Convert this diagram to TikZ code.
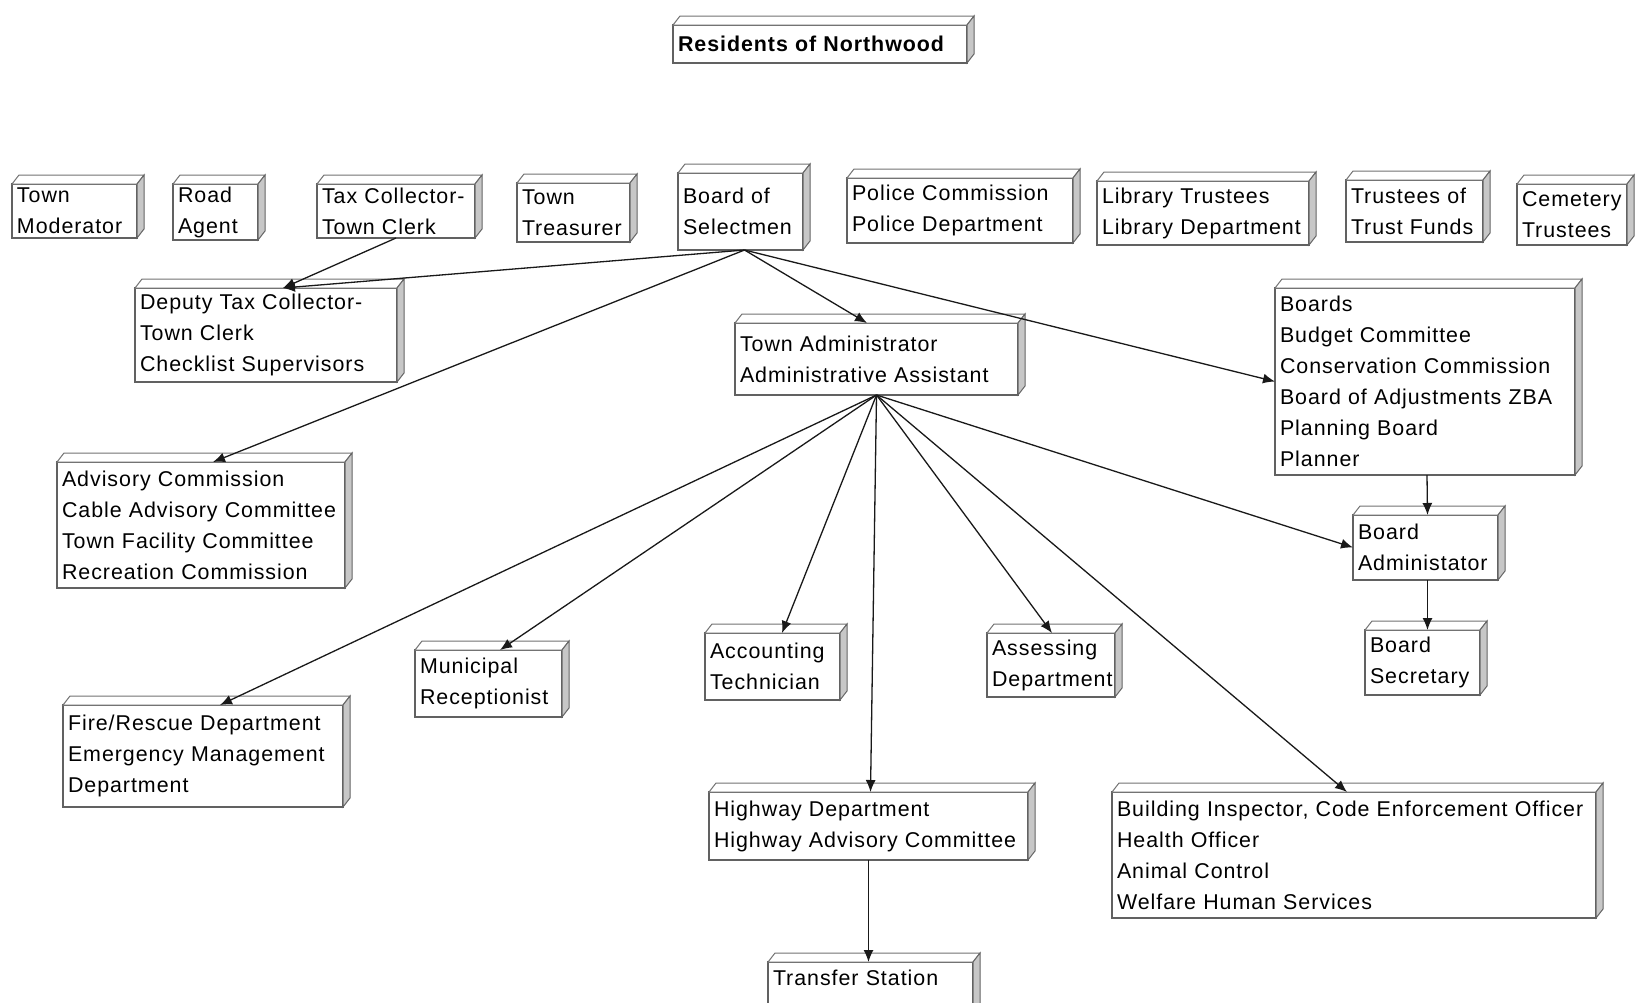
\documentclass[tikz,border=0pt]{standalone}
\usepackage{fontspec}
\setmainfont{Liberation Sans}[LetterSpace=4.5]
\usetikzlibrary{arrows.meta}
\newcommand\orgfs{\fontsize{10.7}{15.5}\selectfont}
\tikzset{
  orgbox/.style={draw=black!62, line width=0.6pt, fill=white, anchor=north west,
    inner xsep=2.5pt, inner ysep=0pt, outer sep=0pt, align=left, font=\orgfs},
  topface/.style={draw=black!55, line width=0.5pt, fill=white},
  sideface/.style={draw=black!60, line width=0.5pt, fill=black!22},
  conn/.style={-{Latex[length=6pt,width=5pt]}, line width=0.65pt, black!90},
}
\newcommand\orgbx[6]{%
  \pgfmathsetlengthmacro\obW{(#4-#2)*0.5pt}%
  \pgfmathsetlengthmacro\obH{(#5-#3)*0.5pt}%
  \pgfmathsetlengthmacro\obT{(#4-#2)*0.5pt-5pt}%
  \node[orgbox, minimum width=\obW, minimum height=\obH, text width=\obT] (#1) at (#2,#3) {#6};
  \filldraw[topface] (#1.north west) -- ++(7,-9) -- ([shift={(7,-9)}]#1.north east) -- (#1.north east) -- cycle;
  \filldraw[sideface] (#1.north east) -- ++(7,-9) -- ([shift={(7,-9)}]#1.south east) -- (#1.south east) -- cycle;
}
\begin{document}
\begin{tikzpicture}[x=0.5pt,y=-0.5pt]
\useasboundingbox (0,0) rectangle (1648,1002);
\clip (0,0) rectangle (1648,1002);
\fill[white] (0,0) rectangle (1648,1002);

\orgbx{res}{673}{25}{967}{63}{\textbf{Residents~of~Northwood}}
\orgbx{mod}{12}{184}{137}{238}{Town\\Moderator}
\orgbx{road}{173}{184}{258}{240}{Road\\Agent}
\orgbx{tax}{317}{184}{475}{238}{Tax~Collector-\\Town~Clerk}
\orgbx{treas}{517}{183}{630}{242}{Town\\Treasurer}
\orgbx{bos}{678}{173}{803}{250}{Board~of\\Selectmen}
\orgbx{pol}{847}{178}{1073}{243}{Police~Commission\\Police~Department}
\orgbx{lib}{1097}{181}{1309}{245}{Library~Trustees\\Library~Department}
\orgbx{tf}{1346}{180}{1483}{242}{Trustees~of\\Trust~Funds}
\orgbx{cem}{1517}{184}{1627}{245}{Cemetery\\Trustees}
\orgbx{dep}{135}{288}{397}{382}{Deputy~Tax~Collector-\\Town~Clerk\\Checklist~Supervisors}
\orgbx{adm}{735}{323}{1018}{395}{Town~Administrator\\Administrative~Assistant}
\orgbx{brd}{1275}{288}{1575}{475}{Boards\\Budget~Committee\\Conservation~Commission\\Board~of~Adjustments~ZBA\\Planning~Board\\Planner}
\orgbx{adv}{57}{462}{345}{588}{Advisory~Commission\\Cable~Advisory~Committee\\Town~Facility~Committee\\Recreation~Commission}
\orgbx{badm}{1353}{515}{1498}{580}{Board\\Administator}
\orgbx{bsec}{1365}{630}{1480}{695}{Board\\Secretary}
\orgbx{fire}{63}{705}{343}{807}{Fire/Rescue~Department\\Emergency~Management\\Department}
\orgbx{mun}{415}{650}{562}{717}{Municipal\\Receptionist}
\orgbx{acc}{705}{633}{840}{700}{Accounting\\Technician}
\orgbx{ass}{987}{633}{1115}{697}{Assessing\\Department}
\orgbx{hwy}{709}{792}{1028}{860}{Highway~Department\\Highway~Advisory~Committee}
\orgbx{bld}{1112}{792}{1596}{918}{Building~Inspector,~Code~Enforcement~Officer\\Health~Officer\\Animal~Control\\Welfare~Human~Services}

\pgfmathsetlengthmacro\obW{(973-768)*0.5pt}
\pgfmathsetlengthmacro\obT{(973-768)*0.5pt-5pt}
\node[orgbox, minimum width=\obW, text width=\obT, minimum height=20pt, inner ysep=0pt] (trs) at (768,962) {\rule{0pt}{11.5pt}Transfer~Station\\\phantom{X}};
\filldraw[topface] (trs.north west) -- ++(7,-9) -- ([shift={(7,-9)}]trs.north east) -- (trs.north east) -- cycle;
\filldraw[sideface] (trs.north east) -- ++(7,-9) -- ([shift={(7,-9)}]trs.south east) -- (trs.south east) -- cycle;

% connectors
\draw[conn] (tax.south) -- ([xshift=8.5pt]dep.north);
\draw[conn] ([xshift=2pt]bos.south) -- ([xshift=8.5pt]dep.north);
\draw[conn] ([xshift=2pt]bos.south) -- ([xshift=6pt]adv.north);
\draw[conn] ([xshift=2pt]bos.south) -- ([xshift=-4.75pt]adm.north);
\draw[conn] ([xshift=2pt]bos.south) -- (brd.west);
\draw[conn] (adm.south) -- ([xshift=8.5pt]fire.north);
\draw[conn] (adm.south) -- ([xshift=5.75pt]mun.north);
\draw[conn] (adm.south) -- ([xshift=4.75pt]acc.north);
\draw[conn] (adm.south) -- ([xshift=1pt]hwy.north);
\draw[conn] (adm.south) -- ([xshift=0.5pt]ass.north);
\draw[conn] (adm.south) -- ([xshift=-3.5pt]bld.north);
\draw[conn] (adm.south) -- (badm.west);
\draw[conn] ([xshift=1pt]brd.south) -- ([xshift=1pt]badm.north);
\draw[conn] ([xshift=1pt]badm.south) -- ([xshift=2.5pt]bsec.north);
\draw[conn] (hwy.south) -- ([xshift=-1pt]trs.north);
\end{tikzpicture}
\end{document}
